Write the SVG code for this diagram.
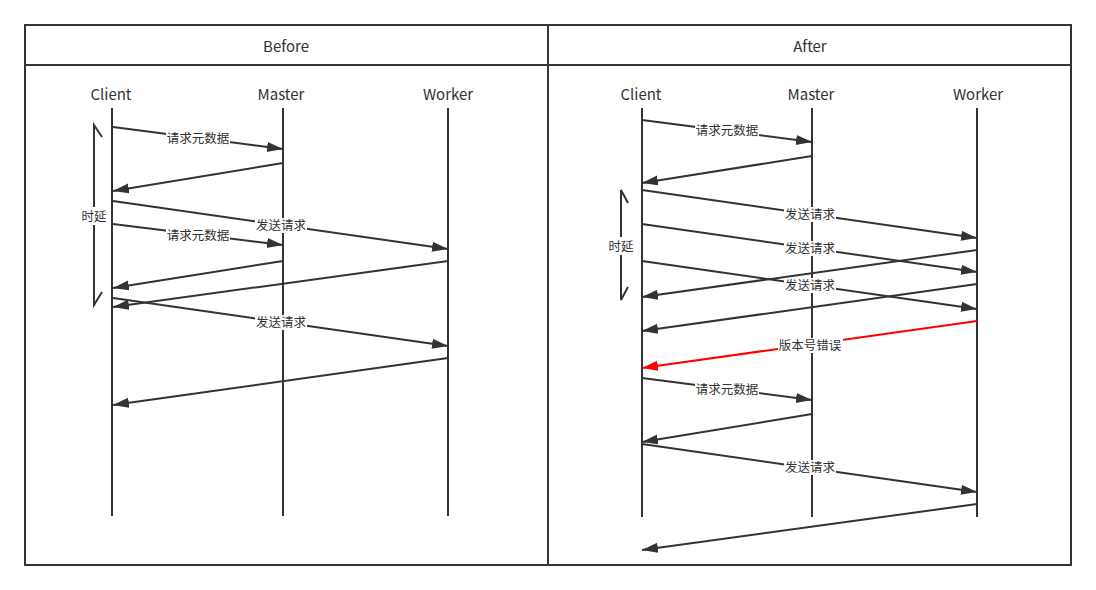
<svg xmlns="http://www.w3.org/2000/svg" width="1096" height="590" viewBox="0 0 1096 590">
<style>
.t{font-family:"Noto Sans CJK SC","Noto Sans",sans-serif;fill:#333;text-anchor:middle}
.h{font-size:15px}
.l{font-size:12.5px}
.life{stroke:#333;stroke-width:2;fill:none}
.m{stroke:#333;stroke-width:2;fill:none;marker-end:url(#ah)}
.r{stroke:#f00;stroke-width:2;fill:none;marker-end:url(#ahr)}
.bg{fill:#fff}
.br{stroke:#333;stroke-width:2;fill:none}
</style>
<defs>
<marker id="ah" markerUnits="userSpaceOnUse" markerWidth="18" markerHeight="12" refX="16" refY="5" orient="auto"><path d="M0,0 L16,5 L0,10 z" fill="#333"/></marker>
<marker id="ahr" markerUnits="userSpaceOnUse" markerWidth="18" markerHeight="12" refX="16" refY="5" orient="auto"><path d="M0,0 L16,5 L0,10 z" fill="#f00"/></marker>
</defs>
<rect x="0" y="0" width="1096" height="590" fill="#fff"/>
<g id="frame">
<rect x="25" y="25" width="1046" height="540" fill="none" stroke="#333" stroke-width="2"/>
<line x1="548" y1="25" x2="548" y2="565" stroke="#333" stroke-width="2"/>
<line x1="25" y1="65" x2="1071" y2="65" stroke="#333" stroke-width="2"/>
<text class="t h" x="286" y="52">Before</text>
<text class="t h" x="810" y="52">After</text>
</g>
<g id="before-client"><text class="t h" x="111" y="100">Client</text><line class="life" x1="112" y1="108" x2="112" y2="516"/></g>
<g id="before-master"><text class="t h" x="281" y="100">Master</text><line class="life" x1="283" y1="108" x2="283" y2="516"/></g>
<g id="before-worker"><text class="t h" x="448" y="100">Worker</text><line class="life" x1="448" y1="108" x2="448" y2="516"/></g>
<g id="after-client"><text class="t h" x="641" y="100">Client</text><line class="life" x1="642" y1="108" x2="642" y2="517"/></g>
<g id="after-master"><text class="t h" x="811" y="100">Master</text><line class="life" x1="812" y1="108" x2="812" y2="517"/></g>
<g id="after-worker"><text class="t h" x="978" y="100">Worker</text><line class="life" x1="977" y1="108" x2="977" y2="517"/></g>
<g id="before-delay">
<path class="br" d="M102,137 L94,125 L94,305 L102,292"/>
<rect class="bg" x="79" y="207" width="30" height="18"/>
<text class="t l" x="94" y="221">时延</text>
</g>
<g id="after-delay">
<path class="br" d="M628,203 L621,190 L621,300 L628,287"/>
<rect class="bg" x="606" y="237" width="30" height="18"/>
<text class="t l" x="621" y="251">时延</text>
</g>
<g id="connectors">
<line class="m" x1="113" y1="127" x2="283" y2="149"/>
<line class="m" x1="283" y1="163" x2="113" y2="191"/>
<line class="m" x1="113" y1="201" x2="448" y2="249"/>
<line class="m" x1="113" y1="224" x2="283" y2="245"/>
<line class="m" x1="283" y1="261" x2="113" y2="288"/>
<line class="m" x1="448" y1="261" x2="113" y2="307"/>
<line class="m" x1="113" y1="298" x2="448" y2="346"/>
<line class="m" x1="448" y1="358" x2="113" y2="405"/>
<line class="m" x1="642" y1="120" x2="812" y2="142"/>
<line class="m" x1="812" y1="156" x2="642" y2="183"/>
<line class="m" x1="642" y1="190" x2="977" y2="238"/>
<line class="m" x1="642" y1="224" x2="977" y2="272"/>
<line class="m" x1="977" y1="250" x2="642" y2="297"/>
<line class="m" x1="642" y1="261" x2="977" y2="309"/>
<line class="m" x1="977" y1="284" x2="642" y2="331"/>
<line class="r" x1="977" y1="321" x2="642" y2="368"/>
<line class="m" x1="642" y1="378" x2="812" y2="400"/>
<line class="m" x1="812" y1="414" x2="642" y2="442"/>
<line class="m" x1="642" y1="444" x2="977" y2="492"/>
<line class="m" x1="977" y1="504" x2="642" y2="550"/>
</g>
<g id="labels">
<rect class="bg" x="166" y="131" width="64" height="15"/><text class="t l" x="198" y="143">请求元数据</text>
<rect class="bg" x="255" y="218" width="52" height="15"/><text class="t l" x="281" y="230">发送请求</text>
<rect class="bg" x="166" y="228" width="64" height="15"/><text class="t l" x="198" y="240">请求元数据</text>
<rect class="bg" x="255" y="315" width="52" height="15"/><text class="t l" x="281" y="327">发送请求</text>
<rect class="bg" x="695" y="123" width="64" height="15"/><text class="t l" x="727" y="135">请求元数据</text>
<rect class="bg" x="784" y="207" width="52" height="15"/><text class="t l" x="810" y="219">发送请求</text>
<rect class="bg" x="784" y="241" width="52" height="15"/><text class="t l" x="810" y="253">发送请求</text>
<rect class="bg" x="784" y="278" width="52" height="15"/><text class="t l" x="810" y="290">发送请求</text>
<rect class="bg" x="778" y="338" width="65" height="15"/><text class="t l" x="810" y="350">版本号错误</text>
<rect class="bg" x="695" y="382" width="64" height="15"/><text class="t l" x="727" y="394">请求元数据</text>
<rect class="bg" x="784" y="460" width="52" height="15"/><text class="t l" x="810" y="472">发送请求</text>
</g>
</svg>
